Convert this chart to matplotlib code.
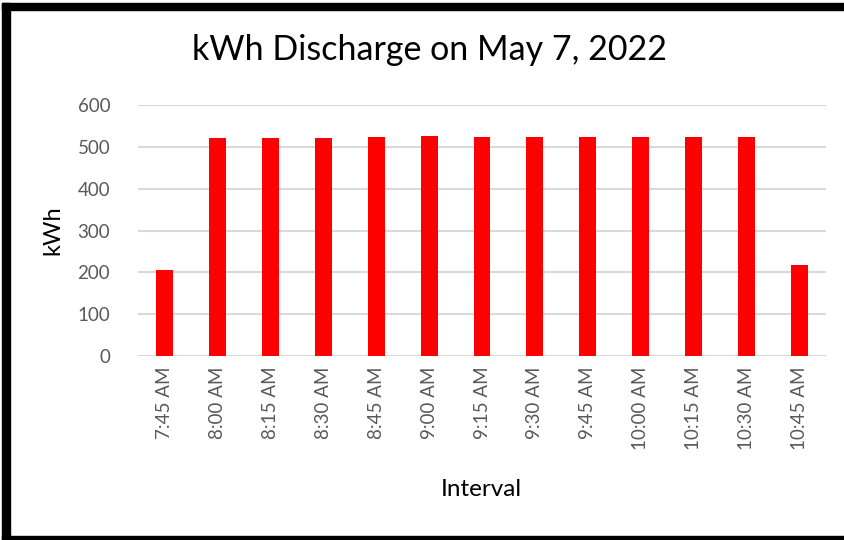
import matplotlib
matplotlib.use("Agg")
import matplotlib.pyplot as plt
from matplotlib.patches import Rectangle

intervals = ["7:45 AM", "8:00 AM", "8:15 AM", "8:30 AM", "8:45 AM", "9:00 AM", "9:15 AM",
             "9:30 AM", "9:45 AM", "10:00 AM", "10:15 AM", "10:30 AM", "10:45 AM"]
kwh = [206, 522, 521, 522, 525, 527, 525, 524, 524, 524, 524, 525, 217]
yticks = [0, 100, 200, 300, 400, 500, 600]

plt.rcParams['font.family'] = ['Lato', 'DejaVu Sans']

W, H = 845, 540
fig = plt.figure(figsize=(W / 100, H / 100), dpi=100)
ax = fig.add_axes([138 / W, 1 - 355.7 / H, (826 - 138) / W, (355.7 - 105.3) / H])

x = list(range(len(intervals)))
ax.bar(x, kwh, width=0.32, color="#ff0000", zorder=3)
ax.set_xlim(-0.5, len(intervals) - 0.5)
ax.set_ylim(0, 600)
ax.set_yticks(yticks)
ax.set_xticks(x)
ax.set_xticklabels(intervals, rotation=90)
ax.tick_params(axis='both', length=0, labelsize=13.5, colors="#595959")
ax.tick_params(axis='y', pad=20)
ax.tick_params(axis='x', pad=8)
ax.grid(axis='y', color="#d9d9d9", linewidth=1.5, zorder=0)
for s in ax.spines.values():
    s.set_visible(False)
ax.set_ylabel("kWh", fontsize=17, color="black", labelpad=10)

fig.text(430 / W, 1 - 50 / H, "kWh Discharge on May 7, 2022", fontsize=24.5,
         ha="center", va="center", color="black")
fig.text(481 / W, 1 - 490 / H, "Interval", fontsize=17.5, ha="center", va="center", color="black")

# black frame
fig.patches.append(Rectangle((2 / W, 1 - 10 / H), 1 - 2 / W, 7 / H, transform=fig.transFigure,
                             color="black", zorder=10))
fig.patches.append(Rectangle((2 / W, 0), 8 / W, 1 - 3 / H, transform=fig.transFigure,
                             color="black", zorder=10))
fig.patches.append(Rectangle((2 / W, 0), 1 - 2 / W, 4 / H, transform=fig.transFigure,
                             color="black", zorder=10))

fig.savefig("out.png", dpi=100)
